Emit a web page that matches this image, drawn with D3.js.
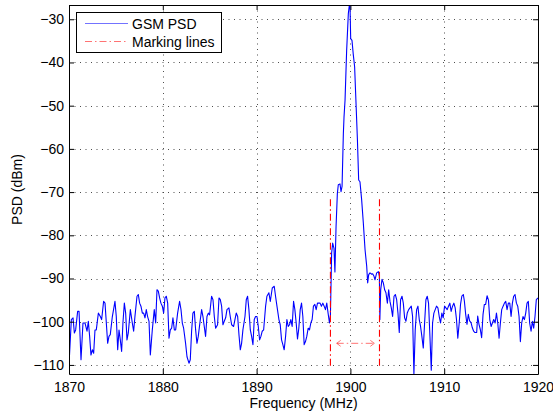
<!DOCTYPE html>
<html>
<head>
<meta charset="utf-8">
<script src="https://cdn.jsdelivr.net/npm/d3@7"></script>
<style>
  body { margin: 0; background: #fff; }
  svg { display: block; }
  text { font-family: "Liberation Sans", Arial, Helvetica, sans-serif; }
</style>
</head>
<body>
<svg id="chart" width="553" height="418"></svg>
<script>
// Noise floor below the carrier (MHz, dBm)
const lowerBandFreq = [
  1870.00,1870.25,1870.43,1870.57,1870.71,1870.92,1871.07,1871.28,1871.49,1871.71,
  1871.92,1872.06,1872.20,1872.34,1872.49,1872.63,1872.77,1872.91,1873.13,1873.34,
  1873.48,1873.69,1873.84,1873.98,1874.12,1874.26,1874.40,1874.62,1874.90,1875.04,
  1875.19,1875.33,1875.47,1875.61,1875.75,1875.90,1876.04,1876.18,1876.32,1876.54,
  1876.75,1876.89,1877.03,1877.25,1877.39,1877.53,1877.67,1877.82,1877.96,1878.10,
  1878.24,1878.38,1878.53,1878.67,1878.88,1879.09,1879.24,1879.38,1879.52,1879.66,
  1879.80,1879.95,1880.09,1880.23,1880.37,1880.52,1880.66,1880.80,1880.94,1881.08,
  1881.23,1881.37,1881.58,1881.79,1881.94,1882.08,1882.22,1882.43,1882.58,1882.79,
  1882.93,1883.07,1883.21,1883.36,1883.50,1883.64,1883.78,1884.00,1884.14,1884.28,
  1884.42,1884.56,1884.71,1884.85,1884.99,1885.20,1885.35,1885.49,1885.63,1885.84,
  1885.99,1886.13,1886.27,1886.41,1886.55,1886.70,1886.84,1887.05,1887.19,1887.34,
  1887.55,1887.69,1887.83,1887.98,1888.12,1888.26,1888.40,1888.54,1888.76,1888.90,
  1889.04,1889.18,1889.33,1889.47,1889.61,1889.75,1889.89,1890.04,1890.18,1890.32,
  1890.46,1890.60,1890.75,1890.96,1891.10,1891.31,1891.46,1891.67,1891.88,1892.02,
  1892.17,1892.38,
  1892.52,1892.66,1892.80,1892.94,1893.09,1893.23,1893.37,1893.51,1893.65,1893.79,
  1893.94,1894.08,1894.22,1894.36,1894.50,1894.65,1894.79,1894.93,1895.07,1895.21,
  1895.35,1895.50,1895.64,1895.78,1895.92,1896.06,1896.21,1896.35,1896.49,1896.63,
  1896.77,1896.91,1897.06,1897.20,1897.34,1897.48,1897.62,1897.77
];
const lowerBandPsd = [
  -110.0,-99.5,-99.1,-102.6,-101.9,-97.6,-97.6,-108.8,-100.3,-100.3,
  -102.2,-99.9,-103.4,-107.7,-106.5,-107.3,-101.9,-101.9,-98.0,-98.8,
  -99.5,-95.3,-95.7,-100.3,-105.0,-103.4,-103.0,-98.8,-95.3,-98.8,
  -106.5,-101.9,-104.2,-106.9,-100.3,-95.7,-98.0,-104.2,-102.6,-97.2,
  -100.3,-102.2,-98.8,-94.1,-93.7,-95.7,-96.4,-98.0,-98.0,-99.1,
  -97.2,-98.8,-99.9,-107.7,-101.9,-97.2,-100.3,-92.6,-92.9,-94.5,
  -95.7,-96.4,-98.0,-94.5,-94.1,-95.7,-103.8,-101.9,-101.5,-99.1,
  -101.9,-101.9,-98.0,-95.3,-97.2,-100.3,-101.5,-105.0,-108.1,-109.6,
  -108.8,-102.2,-98.0,-97.6,-101.9,-105.0,-103.4,-99.5,-97.2,-98.8,
  -101.1,-103.4,-98.8,-98.0,-98.4,-94.1,-94.9,-98.8,-101.5,-100.7,
  -94.5,-94.9,-96.4,-100.7,-99.9,-99.1,-97.2,-96.8,-98.8,-100.7,
  -101.1,-99.5,-98.0,-98.8,-103.0,-106.5,-105.0,-101.9,-98.8,-94.9,
  -94.1,-97.2,-101.9,-103.4,-105.3,-99.5,-98.8,-98.8,-101.1,-104.2,
  -103.4,-102.2,-101.9,-96.4,-94.1,-93.3,-95.3,-92.2,-91.8,-94.1,
  -96.4,-99.5,
  -100.7,-104.2,-105.3,-106.5,-103.4,-99.5,-101.1,-100.7,-99.5,-101.1,
  -95.3,-97.2,-100.3,-104.0,-101.5,-97.2,-95.7,-98.8,-105.3,-104.6,
  -103.4,-101.5,-101.9,-100.3,-99.5,-96.4,-96.0,-97.2,-95.7,-95.7,
  -95.7,-96.4,-95.7,-96.4,-97.2,-95.7,-98.0,-100.3
];

// GSM carrier around 1900 MHz
const carrierFreq = [
  1897.87,1898.00,1898.11,1898.25,1898.35,1898.47,1898.61,1898.71,1898.89,1899.00,
  1899.11,1899.25,1899.32,1899.43,1899.60,1899.78,1899.89,1899.96,1900.03,1900.17,
  1900.30,1900.45,1900.60,1900.75,1900.88,1901.02,1901.20,1901.38,1901.56,1901.74,
  1901.84,1901.95,1902.09,1902.27,1902.37,1902.52,1902.62,1902.80,1902.98,1903.09,
  1903.14
];
const carrierPsd = [
  -98.5,-84.1,-81.8,-83.0,-88.5,-78.0,-70.3,-68.3,-68.1,-69.9,
  -68.7,-56.4,-52.6,-48.7,-37.2,-28.7,-26.7,-27.0,-34.5,-34.9,
  -38.0,-41.0,-49.5,-58.0,-67.2,-67.6,-71.8,-77.2,-83.3,-87.2,
  -91.0,-89.1,-88.7,-89.0,-88.9,-89.5,-90.3,-88.7,-88.4,-89.5,
  -99.5
];

// Noise floor above the carrier
const upperBandFreq = [
  1903.23,1903.37,1903.51,1903.65,1903.79,1903.94,1904.08,1904.22,1904.36,1904.50,
  1904.65,1904.79,1904.93,1905.07,1905.21,1905.35,1905.50,1905.64,1905.78,1905.92,
  1906.06,1906.21,1906.35,1906.49,1906.63,1906.77,1906.91,1907.06,1907.20,1907.34,
  1907.48,1907.62,1907.77,1907.91,1908.05,1908.19,1908.33,1908.48,1908.62,1908.76,
  1908.90,1909.04,1909.18,1909.33,1909.47,1909.61,1909.75,1909.89,1910.04,1910.18,
  1910.32,1910.46,1910.60,1910.74,1910.89,1911.03,1911.17,1911.31,1911.45,1911.60,
  1911.74,1911.88,1912.04,1912.15,1912.29,1912.43,1912.57,1912.71,1912.86,1913.00,
  1913.14,1913.28,1913.46,1913.57,1913.71,1913.85,1913.99,1914.14,1914.28,1914.42,
  1914.57,1914.72,1914.86,1915.00,1915.14,1915.28,1915.43,1915.57,1915.71,1915.85,
  1915.99,1916.13,1916.28,1916.42,1916.56,1916.70,1916.84,1916.99,1917.13,1917.27,
  1917.41,1917.55,1917.70,1917.84,1917.98,1918.12,1918.26,1918.40,1918.55,1918.69,
  1918.83,1918.97,1919.11,1919.26,1919.40,1919.54,1919.68,1919.82,1920.00
];
const upperBandPsd = [
  -92.6,-90.2,-91.0,-92.6,-93.3,-95.7,-92.6,-95.3,-96.8,-98.8,
  -94.1,-93.7,-94.9,-98.0,-102.5,-94.9,-94.1,-95.7,-99.1,-99.9,
  -98.0,-97.2,-96.8,-96.4,-98.8,-112.1,-101.9,-97.2,-96.4,-99.5,
  -101.1,-103.4,-106.1,-100.3,-94.9,-94.1,-95.7,-103.4,-111.2,-100.3,
  -98.0,-97.2,-96.4,-96.8,-98.8,-100.3,-98.0,-99.1,-96.4,-96.8,
  -97.2,-96.4,-95.7,-97.6,-96.4,-95.7,-96.8,-99.5,-103.8,-100.3,
  -96.0,-94.1,-93.7,-95.2,-98.3,-100.6,-98.3,-99.8,-100.2,-101.4,
  -102.2,-102.5,-102.5,-98.7,-100.6,-101.8,-103.7,-98.3,-96.0,-96.0,
  -94.0,-95.0,-99.5,-101.1,-100.3,-99.5,-100.3,-98.0,-100.3,-103.8,
  -100.3,-97.2,-96.4,-95.7,-95.3,-97.2,-95.7,-95.7,-98.8,-95.7,
  -94.1,-93.7,-95.7,-96.4,-98.8,-104.6,-100.3,-98.8,-99.5,-98.0,
  -95.7,-95.3,-100.3,-102.2,-99.9,-101.5,-98.8,-94.9,-94.5
];

// Channel marking lines and the span arrow between them
const markFreqs = [1897.87, 1903.1];
const markLevels = [-110.2, -71.0];
const spanFreqs = [1898.54, 1902.55];
const spanLevel = -105;

const xTicks = [1870, 1880, 1890, 1900, 1910, 1920];
const yTicks = [-110, -100, -90, -80, -70, -60, -50, -40, -30];
const legendLabels = ["GSM PSD", "Marking lines"];

const freqMHz = lowerBandFreq.concat(carrierFreq, upperBandFreq);
const psdDbm = lowerBandPsd.concat(carrierPsd, upperBandPsd);
const points = freqMHz.map((f, i) => [f, psdDbm[i]]);

const W = 553, H = 418;
const margin = { top: 5, right: 15, bottom: 44, left: 69 };
const w = W - margin.left - margin.right;
const h = H - margin.top - margin.bottom;
const FONT = 14;
const BLUE = "#0000ff", RED = "#ff0000";
const DASHDOT = "7,3,1.5,3";

const svg = d3.select("#chart");
const g = svg.append("g").attr("transform", `translate(${margin.left},${margin.top})`);

const x = d3.scaleLinear().domain(d3.extent(xTicks)).range([0, w]);
const y = d3.scaleLinear().domain(d3.extent(psdDbm)).range([h, 0]);

// Dotted grid
const grid = g.append("g").attr("stroke", "#3a3a3a").attr("stroke-width", 0.9)
  .attr("stroke-dasharray", "1,4.5");
grid.selectAll("line.vx").data(xTicks.slice(1, -1)).join("line")
  .attr("x1", d => Math.round(x(d)) + 0.5).attr("x2", d => Math.round(x(d)) + 0.5)
  .attr("y1", 0).attr("y2", h);
grid.selectAll("line.hy").data(yTicks).join("line")
  .attr("y1", d => Math.round(y(d)) + 0.5).attr("y2", d => Math.round(y(d)) + 0.5)
  .attr("x1", 0).attr("x2", w);

// PSD trace
g.append("clipPath").attr("id", "plotArea")
  .append("rect").attr("width", w).attr("height", h);
const line = d3.line().x(d => x(d[0])).y(d => y(d[1]));
g.append("path").datum(points)
  .attr("clip-path", "url(#plotArea)")
  .attr("fill", "none").attr("stroke", BLUE).attr("stroke-width", 1.1)
  .attr("stroke-linejoin", "round")
  .attr("d", line);

// Marking lines
g.append("g").selectAll("line").data(markFreqs).join("line")
  .attr("x1", d => x(d)).attr("x2", d => x(d))
  .attr("y1", y(markLevels[0])).attr("y2", y(markLevels[1]))
  .attr("stroke", RED).attr("stroke-width", 1.1).attr("stroke-dasharray", DASHDOT);

// Double-headed span arrow
const span = g.append("g").attr("stroke", RED).attr("stroke-opacity", 0.55)
  .attr("fill", "none").attr("stroke-width", 1);
const ya = y(spanLevel), xa0 = x(spanFreqs[0]), xa1 = x(spanFreqs[1]);
span.append("line").attr("x1", xa0).attr("x2", xa1).attr("y1", ya).attr("y2", ya)
  .attr("stroke-dasharray", DASHDOT);
span.append("path").attr("d", `M${xa0 + 4},${ya - 3}L${xa0},${ya}L${xa0 + 4},${ya + 3}`);
span.append("path").attr("d", `M${xa1 - 4},${ya - 3}L${xa1},${ya}L${xa1 - 4},${ya + 3}`);

// Axes with inward ticks on all four sides
const fmt = d3.format("");
function styleAxis(sel) {
  sel.attr("font-size", FONT).attr("font-family", "'Liberation Sans', Arial, Helvetica, sans-serif");
  sel.selectAll("text").attr("fill", "#000");
  sel.selectAll("line, path").attr("stroke", "#000");
}
g.append("g").attr("transform", `translate(0,${h})`)
  .call(d3.axisBottom(x).tickValues(xTicks).tickFormat(fmt).tickSizeInner(-5).tickSizeOuter(0).tickPadding(8))
  .call(styleAxis);
g.append("g")
  .call(d3.axisLeft(y).tickValues(yTicks).tickFormat(fmt).tickSizeInner(-5).tickSizeOuter(0).tickPadding(5))
  .call(styleAxis);
g.append("g")
  .call(d3.axisTop(x).tickValues(xTicks).tickFormat("").tickSizeInner(-5).tickSizeOuter(0))
  .call(styleAxis);
g.append("g").attr("transform", `translate(${w},0)`)
  .call(d3.axisRight(y).tickValues(yTicks).tickFormat("").tickSizeInner(-5).tickSizeOuter(0))
  .call(styleAxis);

// Axis titles
g.append("text").attr("x", w / 2).attr("y", h + 34)
  .attr("text-anchor", "middle").attr("font-size", FONT).text("Frequency (MHz)");
g.append("text").attr("transform", `translate(-47,${h / 2}) rotate(-90)`)
  .attr("text-anchor", "middle").attr("font-size", FONT).text("PSD (dBm)");

// Legend
const legend = svg.append("g").attr("transform", "translate(76.5,12.5)");
legend.append("rect").attr("width", 145).attr("height", 40)
  .attr("fill", "#fff").attr("stroke", "#000").attr("stroke-width", 1);
const legendStyles = [
  { stroke: BLUE, dash: null, opacity: 0.55 },
  { stroke: RED, dash: DASHDOT, opacity: 0.55 }
];
legendLabels.forEach((label, i) => {
  const ly = 11 + i * 18;
  legend.append("line").attr("x1", 8.5).attr("x2", 51.5).attr("y1", ly).attr("y2", ly)
    .attr("stroke", legendStyles[i].stroke).attr("stroke-width", 1.2)
    .attr("stroke-opacity", legendStyles[i].opacity)
    .attr("stroke-dasharray", legendStyles[i].dash);
  legend.append("text").attr("x", 55.5).attr("y", ly + 5)
    .attr("font-size", FONT).text(label);
});
</script>
</body>
</html>
